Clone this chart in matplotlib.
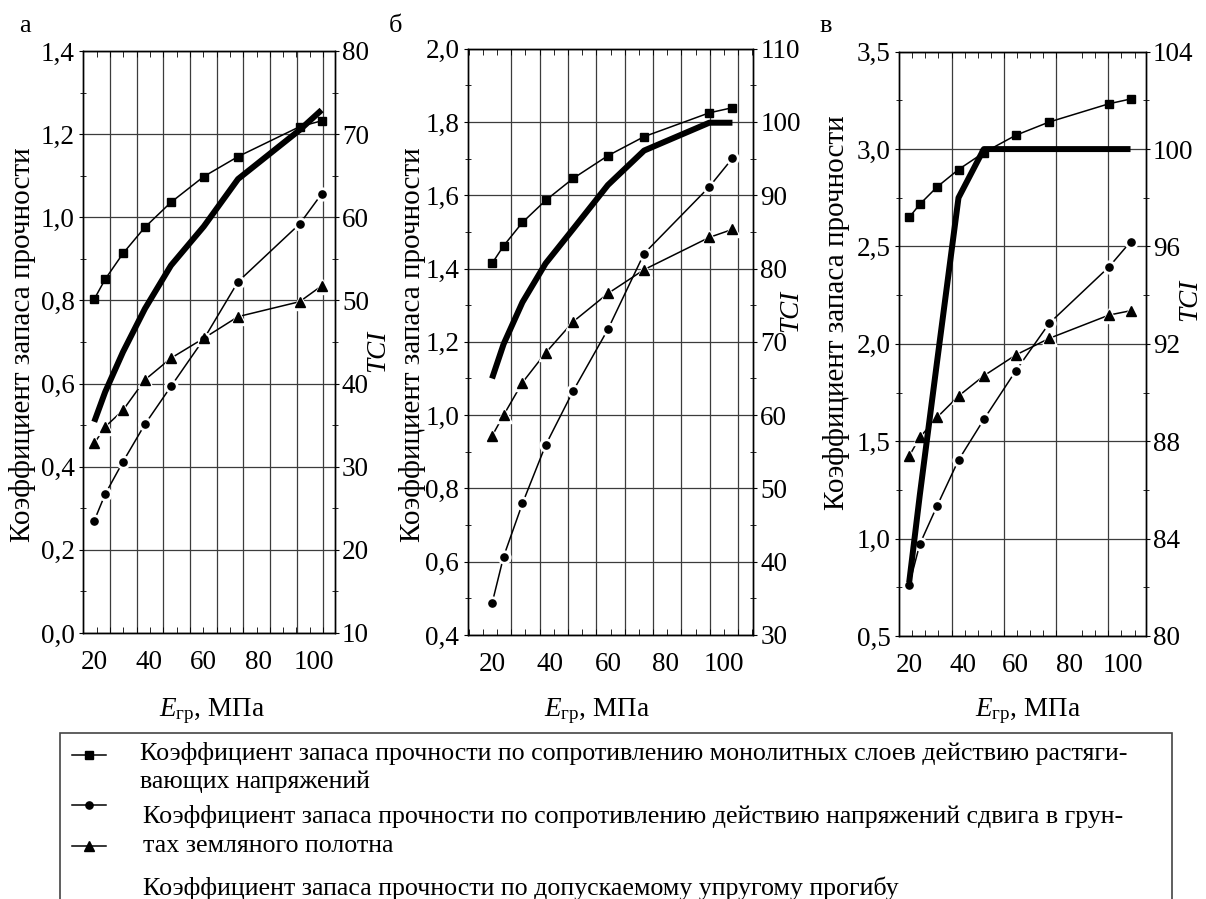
import matplotlib
matplotlib.use('Agg')
import matplotlib.pyplot as plt
import numpy as np
from matplotlib.lines import Line2D
from matplotlib.patches import Rectangle

plt.rcParams['font.family'] = ['Liberation Serif', 'DejaVu Serif']
plt.rcParams['mathtext.fontset'] = 'custom'
plt.rcParams['mathtext.rm'] = 'Liberation Serif'
plt.rcParams['mathtext.it'] = 'Liberation Serif:italic'

# DATA ---------------------------------------------------------------------------------------------
E_gr = [20, 24, 30.5, 38.5, 48, 60, 72.5, 95, 103]      # modulus of subgrade, MPa

# panel а
sq_a = [0.803, 0.851, 0.913, 0.976, 1.036, 1.098, 1.146, 1.218, 1.232]
ci_a = [0.270, 0.334, 0.412, 0.502, 0.593, 0.707, 0.845, 0.984, 1.056]
tr_a = [0.456, 0.496, 0.536, 0.609, 0.661, 0.709, 0.761, 0.797, 0.835]
tci_a = [35.4, 39.0, 43.8, 49.0, 54.2, 58.9, 64.6, 70.5, 72.9]

# panel б
sq_b = [1.414, 1.462, 1.526, 1.586, 1.646, 1.708, 1.760, 1.825, 1.839]
ci_b = [0.486, 0.614, 0.759, 0.918, 1.066, 1.234, 1.441, 1.623, 1.701]
tr_b = [0.943, 1.000, 1.089, 1.170, 1.255, 1.332, 1.397, 1.485, 1.507]
tci_b = [65.0, 69.7, 75.4, 80.7, 85.4, 91.4, 96.1, 99.9, 99.9]

# panel в
sq_c = [2.649, 2.717, 2.806, 2.895, 2.982, 3.071, 3.139, 3.233, 3.257]
ci_c = [0.762, 0.972, 1.169, 1.403, 1.612, 1.862, 2.105, 2.396, 2.524]
tr_c = [1.424, 1.520, 1.623, 1.732, 1.836, 1.943, 2.028, 2.148, 2.170]
tci_c = [82.2, 85.8, 91.3, 98.0, 100.0, 100.0, 100.0, 100.0, 100.0]

x_labels = [20, 40, 60, 80, 100]
panel_names = ['а', 'б', 'в']
legend_rows = [
    'Коэффициент запаса прочности по сопротивлению монолитных слоев действию растяги-',
    'вающих напряжений',
    'Коэффициент запаса прочности по сопротивлению действию напряжений сдвига в грун-',
    'тах земляного полотна',
    'Коэффициент запаса прочности по допускаемому упругому прогибу',
]
# --------------------------------------------------------------------------------------------------

W, H = 1206, 899
fig = plt.figure(figsize=(W / 100, H / 100), dpi=100)

TICK_FS = 19.5
GRID_C = '#3c3c3c'


def box(x0, y0, x1, y1):
    return [x0 / W, 1 - y1 / H, (x1 - x0) / W, (y1 - y0) / H]


def fmt(v):
    return ('%.1f' % v).replace('.', ',')


def series(ax, y, marker, ms, gap):
    ax.plot(E_gr, y, color='k', lw=1.1, zorder=3)
    if gap:
        ax.plot(E_gr, y, ls='none', marker=marker, ms=ms + 4, color='white', zorder=4)
    ax.plot(E_gr, y, ls='none', marker=marker, ms=ms, color='k', zorder=5)


def panel(pos, xlim, grid_x, sub, ylim, ystep, yminor, rlim, rstep, rminor,
          sq, ci, tr, tci):
    ax = fig.add_axes(box(*pos))
    axr = ax.twinx()

    ax.set_xlim(*xlim)
    ax.set_xticks(x_labels)
    ax.set_xticklabels([str(v) for v in x_labels], fontsize=TICK_FS)
    g0 = grid_x[0]
    minor_x = np.arange(g0 - sub * np.floor((g0 - xlim[0]) / sub), xlim[1], sub)
    ax.set_xticks(minor_x, minor=True)
    ax.tick_params(axis='x', which='major', length=0, pad=12)
    ax.tick_params(axis='x', which='minor', direction='in', length=4, top=True, bottom=True)
    for g in grid_x:
        ax.axvline(g, color=GRID_C, lw=0.9, zorder=0.6)

    ax.set_ylim(*ylim)
    yt = np.arange(ylim[0], ylim[1] + 1e-6, ystep)
    ax.set_yticks(yt)
    ax.set_yticklabels([fmt(v) for v in yt], fontsize=TICK_FS)
    ax.set_yticks(np.arange(ylim[0], ylim[1] + 1e-6, yminor), minor=True)
    ax.tick_params(axis='y', which='major', direction='out', length=3, pad=3, right=False)
    ax.tick_params(axis='y', which='minor', direction='inout', length=5, right=False)
    ax.yaxis.grid(True, color=GRID_C, lw=0.9)

    axr.set_ylim(*rlim)
    rt = np.arange(rlim[0], rlim[1] + 1e-6, rstep)
    axr.set_yticks(rt)
    axr.set_yticklabels(['%d' % v for v in rt], fontsize=TICK_FS)
    axr.set_yticks(np.arange(rlim[0], rlim[1] + 1e-6, rminor), minor=True)
    axr.tick_params(axis='y', which='major', direction='out', length=3, pad=2)
    axr.tick_params(axis='y', which='minor', direction='inout', length=5)

    for a in (ax, axr):
        for s in a.spines.values():
            s.set_linewidth(1.0)
            s.set_color('k')

    series(ax, sq, 's', 5.5, False)
    series(ax, ci, 'o', 5.2, True)
    series(ax, tr, '^', 6.8, True)
    axr.plot(E_gr, tci, color='k', lw=4.3, solid_capstyle='butt', zorder=6)
    return ax, axr


panel((83, 51, 335, 633), (15.9, 107.9), np.linspace(25.8, 103.6, 9), 4.86,
      (0.0, 1.4), 0.2, 0.1, (10, 80), 10, 5, sq_a, ci_a, tr_a, tci_a)
panel((467.7, 48.7, 753.3, 635), (11.6, 110.2), np.linspace(26.6, 105.0, 9), 4.9,
      (0.4, 2.0), 0.2, 0.1, (30, 110), 10, 5, sq_b, ci_b, tr_b, tci_b)
panel((899.3, 51.7, 1145.7, 636), (16.3, 108.7), np.linspace(35.9, 94.6, 4), 4.9,
      (0.5, 3.5), 0.5, 0.25, (80, 104), 4, 2, sq_c, ci_c, tr_c, tci_c)


def ftext(x, y, s, **kw):
    fig.text(x / W, 1 - y / H, s, **kw)


# panel letters, axis titles
for name, x in zip(panel_names, [25, 396, 826]):
    ftext(x, 32, name, fontsize=19, ha='center', va='baseline')

for x, y in [(23, 345), (413, 345), (837, 313)]:
    ftext(x, y, 'Коэффициент запаса прочности', fontsize=21, rotation=90,
          ha='center', va='center')

for x, y in [(378, 351), (791, 311), (1190, 300)]:
    ftext(x, y, 'TCI', fontsize=19.5, style='italic', rotation=90, ha='center', va='center')

for x in [212, 597, 1028]:
    ftext(x, 711, r'$E_{\mathrm{гр}}$, МПа', fontsize=19.5, ha='center', va='center')

# legend box
fig.add_artist(Rectangle((60 / W, 1 - 905 / H), (1172 - 60) / W, (905 - 733) / H,
                         fill=False, edgecolor='#444444', lw=1.2,
                         transform=fig.transFigure, clip_on=False))
for y, mk, ms in [(755, 's', 5.5), (805, 'o', 5.2), (846, '^', 6.8)]:
    fig.add_artist(Line2D([72 / W, 106 / W], [1 - y / H] * 2, color='k', lw=1.1))
    fig.add_artist(Line2D([89 / W], [1 - y / H], ls='none', marker=mk, ms=ms, color='k'))

for txt, x, y in zip(legend_rows, [140, 140, 143, 143, 143], [760, 788, 823, 852, 895]):
    ftext(x, y, txt, fontsize=18.7, ha='left', va='baseline')

fig.savefig('out.png', dpi=100)
